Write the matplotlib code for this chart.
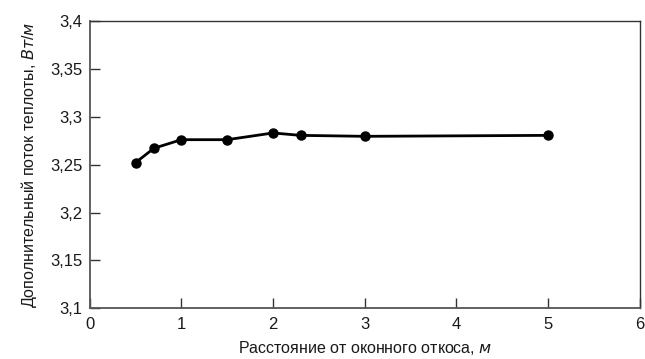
import matplotlib
matplotlib.use("Agg")
import matplotlib.pyplot as plt

# Additional heat flow vs. distance from the window reveal
distance_m = [0.5, 0.7, 1.0, 1.5, 2.0, 2.3, 3.0, 5.0]
heat_flow = [3.252, 3.267, 3.276, 3.276, 3.283, 3.2805, 3.2795, 3.2805]

x_ticks = [0, 1, 2, 3, 4, 5, 6]
x_tick_labels = ["0", "1", "2", "3", "4", "5", "6"]
y_ticks = [3.1, 3.15, 3.2, 3.25, 3.3, 3.35, 3.4]
y_tick_labels = ["3,1", "3,15", "3,2", "3,25", "3,3", "3,35", "3,4"]

font = "Liberation Sans"
plt.rcParams["font.family"] = [font, "DejaVu Sans"]
plt.rcParams["mathtext.fontset"] = "custom"
plt.rcParams["mathtext.rm"] = font
# oblique (slanted upright) shapes for the unit symbols
plt.rcParams["mathtext.it"] = "DejaVu Sans:italic"

fig = plt.figure(figsize=(6.45, 3.59), dpi=100)
ax = fig.add_axes([0.139, 0.141, 0.853, 0.801])

ax.plot(distance_m, heat_flow, color="black", lw=2.0, marker="o",
        markersize=6.5, zorder=3)

ax.set_xlim(0, 6)
ax.set_ylim(3.1, 3.4)
ax.set_xticks(x_ticks)
ax.set_xticklabels(x_tick_labels)
ax.set_yticks(y_ticks)
ax.set_yticklabels(y_tick_labels)

ax.tick_params(direction="in", length=7, width=1.0, color="#333333",
               labelsize=12, colors="#1a1a1a")
ax.tick_params(axis="x", pad=6)
ax.tick_params(axis="y", pad=5)

for side in ["left", "bottom"]:
    ax.spines[side].set_color("#555555")
    ax.spines[side].set_linewidth(1.3)
for side in ["top", "right"]:
    ax.spines[side].set_color("#333333")
    ax.spines[side].set_linewidth(1.0)

ax.set_xlabel(r"Расстояние от оконного откоса, $\it{м}$", fontsize=11.5,
              color="#1a1a1a", labelpad=5)
ax.set_ylabel(r"Дополнительный поток теплоты, $\it{Вт/м}$", fontsize=11.5,
              color="#1a1a1a", labelpad=8)

fig.savefig("out.png", dpi=100)
